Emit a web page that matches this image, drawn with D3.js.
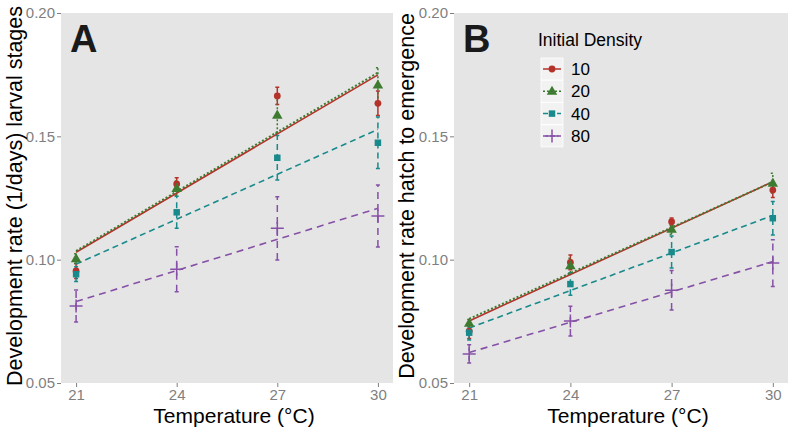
<!DOCTYPE html>
<html>
<head>
<meta charset="utf-8">
<script src="https://cdn.jsdelivr.net/npm/d3@7"></script>
<style>
  body { margin: 0; background: #fff; }
  svg text { font-family: "Liberation Sans", Arial, sans-serif; }
</style>
</head>
<body>
<div id="plot"></div>
<script>
// Temperatures and density groups
var temps = [21, 24, 27, 30];
var densities = ['10', '20', '40', '80'];
var yTicks = [0.05, 0.10, 0.15, 0.20];

// Panel A: larval stages, mean and error
var larval10 = [0.0954, 0.1307, 0.1664, 0.1634];
var larval20 = [0.1004, 0.1289, 0.1586, 0.1708];
var larval40 = [0.0941, 0.1192, 0.1413, 0.1474];
var larval80 = [0.0812, 0.0961, 0.1127, 0.1177];
var larval10Err = [0.003, 0.0025, 0.0035, 0.005];
var larval20Err = [0.002, 0.003, 0.0073, 0.007];
var larval40Err = [0.003, 0.0065, 0.009, 0.0104];
var larval80Err = [0.0065, 0.0091, 0.0128, 0.0126];

// Panel B: hatch to emergence
var hatch10 = [0.0710, 0.0989, 0.1154, 0.1282];
var hatch20 = [0.0742, 0.0976, 0.1123, 0.1310];
var hatch40 = [0.0704, 0.0901, 0.1031, 0.1168];
var hatch80 = [0.0618, 0.0751, 0.0876, 0.0986];
var hatch10Err = [0.003, 0.003, 0.0015, 0.003];
var hatch20Err = [0.0015, 0.003, 0.002, 0.004];
var hatch40Err = [0.003, 0.0045, 0.0065, 0.0068];
var hatch80Err = [0.0037, 0.006, 0.008, 0.0095];

var colors = ['#b5322b', '#3d7b30', '#188a8b', '#8650a6'];
var dashes = [null, '2,2', '6,4', '7,5'];
var shapes = ['circle', 'triangle', 'square', 'plus'];

var width = 797, height = 432;

var svg = d3.select('#plot')
    .append('svg')
    .attr('width', width)
    .attr('height', height);

var y = d3.scaleLinear().domain([0.05, 0.20]).range([383, 13]);

// simple lm fit, like geom_smooth(method = lm)
function fit(vals) {
    var mx = d3.mean(temps), my = d3.mean(vals);
    var sxy = d3.sum(temps, function(t, i) { return (t - mx) * (vals[i] - my); });
    var sxx = d3.sum(temps, function(t) { return (t - mx) * (t - mx); });
    var b = sxy / sxx;
    return function(t) { return my + b * (t - mx); };
}

function symbol(g, shape, color, cx, cy) {
    if (shape == 'circle') {
        g.append('circle').attr('cx', cx).attr('cy', cy).attr('r', 3.4).attr('fill', color);
    } else if (shape == 'plus') {
        g.append('path')
            .attr('d', 'M' + (cx - 6.5) + ',' + cy + 'H' + (cx + 6.5) + 'M' + cx + ',' + (cy - 6.5) + 'V' + (cy + 6.5))
            .attr('stroke', color).attr('stroke-width', 1.5).attr('fill', 'none');
    } else {
        var t = shape == 'triangle' ? d3.symbolTriangle : d3.symbolSquare;
        var s = shape == 'triangle' ? 48 : 42;
        g.append('path')
            .attr('d', d3.symbol().type(t).size(s)())
            .attr('transform', 'translate(' + cx + ',' + (cy + (shape == 'triangle' ? 0.5 : 0)) + ')')
            .attr('fill', color);
    }
}

function panel(left, right, label, title, means, errs, titleX) {
    var x = d3.scaleLinear().domain([20.55, 30.45]).range([left, right]);
    var g = svg.append('g');

    g.append('rect')
        .attr('x', left).attr('y', 13)
        .attr('width', right - left).attr('height', 370)
        .attr('fill', '#e5e5e5');

    // axes
    var ya = g.append('g').attr('transform', 'translate(' + left + ',0)')
        .call(d3.axisLeft(y).tickValues(yTicks).tickFormat(d3.format('.2f')).tickSize(4).tickPadding(2));
    var xa = g.append('g').attr('transform', 'translate(0,383)')
        .call(d3.axisBottom(x).tickValues(temps).tickSize(4).tickPadding(2));
    [ya, xa].forEach(function(a) {
        a.select('.domain').remove();
        a.selectAll('line').attr('stroke', '#7f7f7f');
        a.selectAll('text').attr('fill', '#7f7f7f').style('font-size', '15px');
    });

    // error bars
    means.forEach(function(m, k) {
        var eb = g.append('g')
            .attr('stroke', colors[k])
            .attr('stroke-width', 1.5)
            .attr('stroke-dasharray', dashes[k]);
        temps.forEach(function(t, i) {
            var cx = x(t), lo = y(m[i] - errs[k][i]), hi = y(m[i] + errs[k][i]);
            eb.append('path').attr('fill', 'none')
                .attr('d', 'M' + cx + ',' + lo + 'V' + hi +
                    'M' + (cx - 2) + ',' + hi + 'H' + (cx + 2) +
                    'M' + (cx - 2) + ',' + lo + 'H' + (cx + 2));
        });
    });

    // regression lines
    means.forEach(function(m, k) {
        var f = fit(m);
        g.append('line')
            .attr('x1', x(21)).attr('y1', y(f(21)))
            .attr('x2', x(30)).attr('y2', y(f(30)))
            .attr('stroke', colors[k])
            .attr('stroke-width', k == 1 ? 2 : 1.6)
            .attr('stroke-dasharray', dashes[k]);
    });

    // points
    means.forEach(function(m, k) {
        temps.forEach(function(t, i) {
            symbol(g, shapes[k], colors[k], x(t), y(m[i]));
        });
    });

    g.append('text')
        .attr('x', left + 9).attr('y', 52)
        .style('font-size', '38px').style('font-weight', 'bold')
        .attr('fill', '#1a1a1a')
        .text(label);

    g.append('text')
        .attr('transform', 'translate(' + titleX + ',' + 196 + ') rotate(-90)')
        .attr('text-anchor', 'middle')
        .style('font-size', '21.5px')
        .text(title);

    g.append('text')
        .attr('x', (left + right) / 2 + 7).attr('y', 423)
        .attr('text-anchor', 'middle')
        .style('font-size', '21px')
        .text('Temperature (°C)');

    return x;
}

panel(61, 393, 'A', 'Development rate (1/days) larval stages',
    [larval10, larval20, larval40, larval80],
    [larval10Err, larval20Err, larval40Err, larval80Err], 22);

panel(454, 788, 'B', 'Development rate hatch to emergence',
    [hatch10, hatch20, hatch40, hatch80],
    [hatch10Err, hatch20Err, hatch40Err, hatch80Err], 414);

// Legend inside panel B
var legend = svg.append('g').attr('transform', 'translate(538,0)');
legend.append('text')
    .attr('x', 0).attr('y', 46)
    .style('font-size', '17.5px')
    .text('Initial Density');

densities.forEach(function(d, k) {
    var cy = 69 + k * 22.3;
    legend.append('rect')
        .attr('x', 3).attr('y', cy - 11)
        .attr('width', 22).attr('height', 22)
        .attr('fill', '#f2f2f2').attr('stroke', '#fff').attr('stroke-width', 0.8);
    legend.append('line')
        .attr('x1', 5).attr('x2', 23).attr('y1', cy).attr('y2', cy)
        .attr('stroke', colors[k]).attr('stroke-width', 1.5)
        .attr('stroke-dasharray', dashes[k] == null ? null : (k == 1 ? '2,2' : '5,2'));
    symbol(legend, shapes[k], colors[k], 14, cy);
    legend.append('text')
        .attr('x', 33).attr('y', cy + 6)
        .style('font-size', '17px')
        .text(d);
});
</script>
</body>
</html>
